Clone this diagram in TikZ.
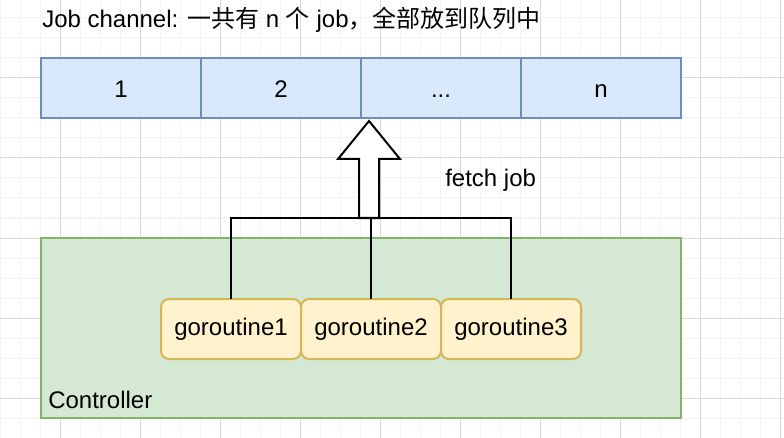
\documentclass[tikz,border=0pt]{standalone}
\usepackage{fontspec}
\setmainfont{Liberation Sans}
\newfontfamily\cjk{Noto Sans CJK SC}
\usetikzlibrary{positioning}
\definecolor{chanfill}{HTML}{DAE8FC}
\definecolor{chanline}{HTML}{6C8EBF}
\definecolor{ctrlfill}{HTML}{D5E8D4}
\definecolor{ctrlline}{HTML}{82B366}
\definecolor{gofill}{HTML}{FFF2CC}
\definecolor{goline}{HTML}{D6B656}
\definecolor{gridmin}{HTML}{F3F3F3}
\definecolor{gridmaj}{HTML}{DADADA}

\begin{document}
\begin{tikzpicture}[x=0.75pt,y=-0.75pt,
            font=\fontsize{18}{21.6}\selectfont,
            slot/.style={draw=chanline,fill=chanfill,line width=1.5pt,outer sep=0pt,
                minimum width=120pt,minimum height=45pt,inner sep=0pt,
                text height=15pt,text depth=0pt},
            ctrl/.style={draw=ctrlline,fill=ctrlfill,line width=1.5pt,outer sep=0pt,
                minimum width=480pt,minimum height=135pt,inner sep=0pt},
            worker/.style={draw=goline,fill=gofill,line width=1.5pt,rounded corners=6pt,
                outer sep=0pt,minimum width=105pt,minimum height=45pt,inner sep=0pt},
            wire/.style={draw=black,line width=1.5pt},
            blockarrow/.style={draw=black,fill=white,line width=1.5pt,line join=miter},
            caption/.style={anchor=base west,inner sep=0pt}]
            \useasboundingbox (0,0) rectangle (784,438);
            \fill[white] (0,0) rectangle (784,438);
            % grid
            \foreach \x in {0,20,...,780} \draw[gridmin,line width=0.75pt] (\x,0) -- (\x,438);
            \foreach \y in {18,38,...,438} \draw[gridmin,line width=0.75pt] (0,\y) -- (784,\y);
            \foreach \x in {60,140,...,780} \draw[gridmaj,line width=0.75pt] (\x,0) -- (\x,438);
            \foreach \y in {78,158,...,438} \draw[gridmaj,line width=0.75pt] (0,\y) -- (784,\y);

            \node[caption] (title) at (42,28) {Job channel: {\cjk 一共有} n {\cjk 个} job{\cjk ，全部放到队列中}};

            % job channel
            \node[slot] (s1) at (121,88) {1};
            \node[slot] (s2) [right=0pt of s1] {2};
            \node[slot] (s3) [right=0pt of s2] {...};
            \node[slot] (s4) [right=0pt of s3] {n};

            % controller
            \node[ctrl] (ctrl) at (361,328) {};
            \node[caption] (ctrllabel) at (48,408) {Controller};
            \node[worker] (g1) at (231,329) {goroutine1};
            \node[worker] (g2) [right=0pt of g1] {goroutine2};
            \node[worker] (g3) [right=0pt of g2] {goroutine3};

            \coordinate (jn) at (369,218);
            \coordinate (arrbot) at (jn);
            \draw[wire] (g1.north) |- (jn) -| (g3.north);
            \draw[wire] (g2.north) |- (arrbot);
            \draw[blockarrow] (arrbot) ++(-10,0) -- ++(0,-59) -- ++(-21,0) -- ++(31,-38)
                  -- ++(31,38) -- ++(-21,0) -- ++(0,59) -- cycle;
            \node[caption] (fetch) at (445,187) {fetch job};
        \end{tikzpicture}
\end{document}
